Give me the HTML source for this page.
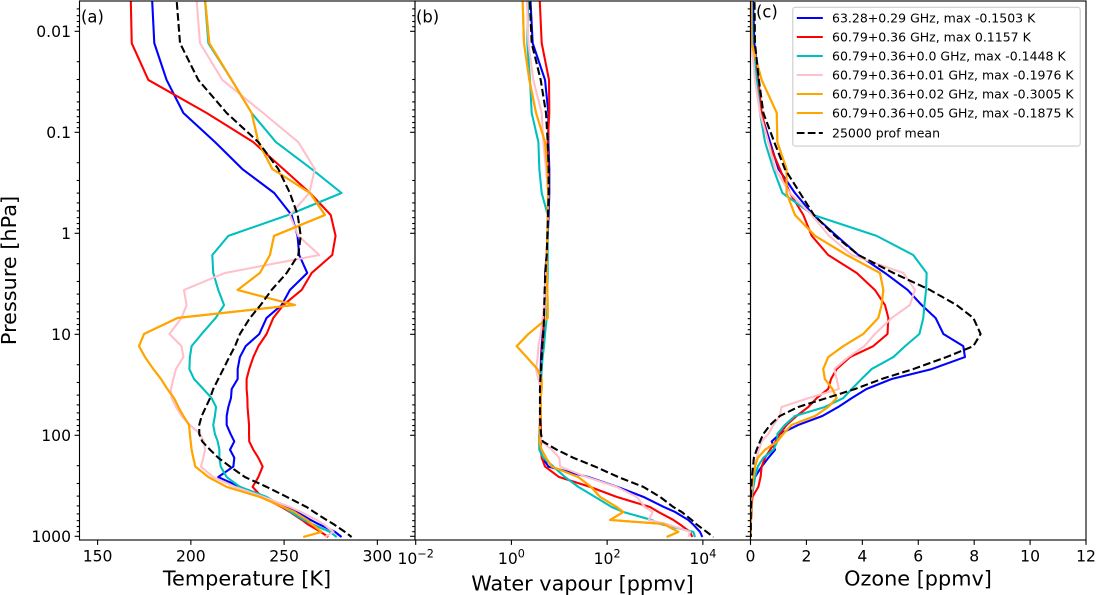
<!DOCTYPE html>
<html>
<head>
<meta charset="utf-8">
<title>Atmospheric profiles</title>
<style>
html,body{margin:0;padding:0;background:#fff;width:1096px;height:595px;overflow:hidden}
svg{display:block;font-family:"DejaVu Sans","Liberation Sans",sans-serif}
</style>
</head>
<body>
<svg id="chart" xmlns="http://www.w3.org/2000/svg" width="1096" height="595" viewBox="0 0 1096 595">
<rect x="0" y="0" width="1096" height="595" fill="#fff"/>
<defs>
<clipPath id="clipA"><rect x="79.5" y="1" width="335.5" height="539"/></clipPath>
<clipPath id="clipB"><rect x="415" y="1" width="335.5" height="539"/></clipPath>
<clipPath id="clipC"><rect x="750.5" y="1" width="335.5" height="539"/></clipPath>
</defs>
<g id="marks"></g>
<g id="axes"></g>
<text x="81" y="22.5" font-size="16.4">(a)</text>
<text x="416" y="22.5" font-size="16.4">(b)</text>
<text x="756" y="17.5" font-size="16.4">(c)</text>
<text transform="translate(16,270.5) rotate(-90)" text-anchor="middle" font-size="20.8">Pressure [hPa]</text>
<text x="247" y="585.7" text-anchor="middle" font-size="20.8">Temperature [K]</text>
<text x="582.5" y="590.5" text-anchor="middle" font-size="20.8">Water vapour [ppmv]</text>
<text x="918" y="585.7" text-anchor="middle" font-size="20.8">Ozone [ppmv]</text>
<g>
<rect x="792.8" y="7.3" width="287.4" height="138.8" rx="2.5" fill="#fff" fill-opacity="0.8" stroke="#ccc" stroke-width="1.1"/>
<g><line x1="796.8" x2="822.8" y1="18" y2="18" stroke="#0000ff" stroke-width="2.08"/><text x="832" y="22.4" font-size="12.5">63.28+0.29 GHz, max -0.1503 K</text></g>
<g><line x1="796.8" x2="822.8" y1="37" y2="37" stroke="#ff0000" stroke-width="2.08"/><text x="832" y="41.4" font-size="12.5">60.79+0.36 GHz, max 0.1157 K</text></g>
<g><line x1="796.8" x2="822.8" y1="56" y2="56" stroke="#00bfbf" stroke-width="2.08"/><text x="832" y="60.4" font-size="12.5">60.79+0.36+0.0 GHz, max -0.1448 K</text></g>
<g><line x1="796.8" x2="822.8" y1="75" y2="75" stroke="#ffc0cb" stroke-width="2.08"/><text x="832" y="79.4" font-size="12.5">60.79+0.36+0.01 GHz, max -0.1976 K</text></g>
<g><line x1="796.8" x2="822.8" y1="94" y2="94" stroke="#ffa500" stroke-width="2.08"/><text x="832" y="98.4" font-size="12.5">60.79+0.36+0.02 GHz, max -0.3005 K</text></g>
<g><line x1="796.8" x2="822.8" y1="113" y2="113" stroke="#ffa500" stroke-width="2.08"/><text x="832" y="117.4" font-size="12.5">60.79+0.36+0.05 GHz, max -0.1875 K</text></g>
<g><line x1="796.8" x2="822.8" y1="133" y2="133" stroke="#000" stroke-width="2.08" stroke-dasharray="7.7 3.3"/><text x="832" y="137.4" font-size="12.5">25000 prof mean</text></g>
</g>
</svg>
<script>
const pressure = [0.004,0.0131,0.0303,0.0644,0.125,0.231,0.399,0.659,1.06,1.64,2.47,3.64,5.13,6.89,9.93,13.1,16.8,22.1,27.7,34.8,42.8,52.4,64.4,79,97,115,139,167,204,259,324,407,513,574,689,755,904,1016];

const tempBlue = [179,180.4,187,196,213,227.6,244.7,254,257.2,258.1,262.4,253.1,248.7,240.6,236.7,229.4,226.3,225.1,225.1,221.9,221.5,220.1,219.2,219.2,221.3,223.3,221,223.3,222.8,214.7,226.3,238,252.2,256.7,264.2,268.3,277.3,280.8];
const tempRed = [167.7,168.3,177.2,208.5,233.5,249.6,263.9,275,277.6,275.8,264.8,259.4,249.6,244.2,240.6,236.2,233.5,231.3,229.9,229.9,230.3,230.4,230.8,231.2,231.2,231.3,233.5,236.2,238.5,236.2,233.1,238,248.7,253.1,259.6,262.4,269.6,273.7];
const tempCyan = [207.2,209.4,221.9,232.6,245.6,264.8,280.8,252.2,220.1,211.5,212,214.7,217.8,213.3,205.8,200.4,199.5,199.2,201.7,206.7,211.1,213.5,212.9,212,212.9,214.4,215.3,215.3,216,219.2,226.3,240.6,249.6,253.5,260.6,264.8,274.6,278.2];
const tempPink = [202.7,204.9,216.9,238.8,257.6,266.5,263.5,253.1,257.6,268.9,218.3,196.3,197.7,195,188.5,195,196,192,190.6,189.3,189.7,192,195,199.5,204.9,207,207.6,206.7,205.4,212,223.7,238.8,253.1,259,267.4,271,276.4,271.9];
const tempOrangeA = [207.2,209.9,221.9,232.6,236.2,243.7,263.9,271.9,244.6,242.4,237,225.1,255.8,192.9,174.9,172.2,175.4,179.9,184,187.4,191,193.3,196,199,199.5,199.9,200.4,201.3,202.4,209.4,219.2,237,249.6,255.5,262.4,264.8,270.1,260.3];
const tempOrangeB = [207.2,209.9,221.9,232.6,236.2,243.7,263.9,271.9,244.6,242.4,237,225.1,255.8,192.9,174.9,172.2,175.4,179.9,184,187.4,191,193.3,196,199,199.5,199.9,200.4,201.3,202.4,209.4,219.2,237,249.6,255.5,262.4,264.8,270.1,260.3];
const tempMean = [192,194.2,204,219.2,236.2,246.9,253.1,257.3,258.9,257.6,251.4,243.3,237.4,231.7,226.3,223.7,220.6,217.4,214.7,212,210.3,208.1,205.8,204.5,204.5,206.1,210.3,214.7,221,229,240.6,251.4,262.1,266,272.8,276.4,282.6,286.2];

const vapourBlue = [2.44,2.78,5.04,5.92,5.92,6.19,6.19,6.00,5.73,5.46,5.04,5.04,4.87,4.64,4.50,4.29,4.15,4.09,4.09,4.09,4.09,4.09,4.09,4.09,4.09,4.09,3.95,4.50,5.92,40.5,163,571,1543,2618,4976,6124,8730,9750];
const vapourRed = [3.83,4.29,6.10,6.19,5.73,5.92,5.92,5.82,5.64,5.46,5.20,5.04,4.87,4.80,4.64,4.42,4.29,4.29,4.15,4.15,4.09,4.09,4.09,4.09,4.09,4.09,4.15,4.29,5.04,9.9,43.9,158,787,1175,2416,3228,5395,6030];
const vapourCyan = [2.26,2.15,2.44,2.65,3.66,3.83,4.29,5.73,5.73,5.73,5.73,5.64,5.64,5.46,5.04,4.80,4.50,4.29,4.15,4.09,4.09,4.02,3.95,3.83,3.78,3.78,3.83,4.64,7.52,13.2,25,55.8,124,218,853,1273,6324,6855];
const vapourPink = [2.08,2.26,2.87,4.29,4.64,5.28,5.92,5.73,5.64,5.46,5.28,5.04,4.80,4.50,4.09,3.66,3.54,3.27,3.66,4.09,4.09,4.09,3.95,3.83,3.83,4.29,6.93,10.0,10.4,37.4,158,414,618,895,738,1754,5395,4976];
const vapourOrangeA = [1.69,1.83,2.37,3.27,5.04,5.64,5.82,5.73,5.64,5.46,5.46,5.64,5.73,5.73,2.26,1.29,2.08,3.48,4.29,4.29,4.09,4.09,4.09,3.95,3.95,3.83,4.29,5.28,6.93,25,46,71,158,218,115,1495,3076,1754];
const vapourOrangeB = [1.69,1.83,2.37,3.27,5.04,5.64,5.82,5.73,5.64,5.46,5.46,5.64,5.73,5.73,2.26,1.29,2.08,3.48,4.29,4.29,4.09,4.09,4.09,3.95,3.95,3.83,4.29,5.28,6.93,25,46,71,158,218,115,1495,3076,1754];
const vapourMean = [2.37,2.65,4.09,5.28,5.73,6.00,6.00,5.82,5.64,5.46,5.12,4.95,4.87,4.80,4.64,4.42,4.29,4.15,4.02,3.95,3.95,3.95,3.95,4.02,4.15,4.50,8.83,19.7,55.8,171,571,1273,2416,3606,5848,7194,12000,16600];

const ozoneBlue = [0.08,0.14,0.28,0.38,0.70,1.0,1.59,2.25,3.08,3.86,4.81,5.62,6.12,6.62,6.90,7.61,7.67,6.48,5.05,4.15,3.62,3.14,2.57,1.71,1.05,0.76,0.88,0.64,0.40,0.16,0.10,0.05,0.02,0.02,0.01,0.01,0.01,0.01];
const ozoneRed = [0.02,0.04,0.28,0.40,0.64,1.05,1.41,1.89,2.19,2.78,3.80,4.45,4.81,4.93,4.90,4.39,3.56,3.08,2.88,2.78,2.37,2.07,1.65,1.29,1.05,0.90,0.70,0.52,0.40,0.36,0.28,0.07,0.04,0.04,0.02,0.01,0.01,0.01];
const ozoneCyan = [0.04,0.07,0.22,0.34,0.52,0.82,1.14,2.25,4.51,5.82,6.30,6.28,6.22,6.18,6.04,5.53,5.11,4.33,3.97,3.62,3.32,2.66,1.59,1.23,0.96,0.96,0.82,0.46,0.26,0.16,0.10,0.04,0.03,0.02,0.01,0.01,0.01,0.01];
const ozonePink = [0.02,0.04,0.16,0.34,0.64,0.88,1.41,2.19,2.81,3.62,5.47,5.88,5.70,5.05,4.45,4.07,3.50,3.00,3.08,3.16,2.07,1.11,1.05,0.82,0.64,0.40,0.30,0.22,0.16,0.10,0.07,0.04,0.02,0.02,0.01,0.01,0.01,0.01];
const ozoneOrangeA = [0.02,0.04,0.40,0.94,0.96,1.29,1.29,1.59,2.31,3.44,4.63,4.75,4.69,4.57,4.03,3.32,2.78,2.60,2.66,2.93,3.08,2.78,2.31,1.47,1.17,0.96,0.52,0.26,0.16,0.10,0.04,0.03,0.02,0.02,0.01,0.01,0.01,0.01];
const ozoneOrangeB = [0.02,0.04,0.40,0.94,0.96,1.29,1.29,1.59,2.31,3.44,4.63,4.75,4.69,4.57,4.03,3.32,2.78,2.60,2.66,2.93,3.08,2.78,2.31,1.47,1.17,0.96,0.52,0.26,0.16,0.10,0.04,0.03,0.02,0.02,0.01,0.01,0.01,0.01];
const ozoneMean = [0.14,0.16,0.30,0.46,0.85,1.23,1.77,2.27,3.02,3.86,5.11,6.42,7.37,7.97,8.23,7.97,7.01,5.82,4.69,3.74,2.72,1.71,1.05,0.70,0.46,0.34,0.22,0.12,0.09,0.05,0.03,0.02,0.02,0.01,0.01,0.01,0.01,0.01];

const pressureMajorTicks = [0.01,0.1,1,10,100,1000];
const pressureTickLabels = ["0.01","0.1","1","10","100","1000"];
const pressureMinorTicks = [0.006,0.007,0.008,0.009,0.02,0.03,0.04,0.05,0.06,0.07,0.08,0.09,0.2,0.3,0.4,0.5,0.6,0.7,0.8,0.9,2,3,4,5,6,7,8,9,20,30,40,50,60,70,80,90,200,300,400,500,600,700,800,900];
const temperatureTicks = [150,200,250,300];
const vapourTickExponents = [-2,0,2,4];
const ozoneTicks = [0,2,4,6,8,10,12];

const seriesColors = ["#0000ff","#ff0000","#00bfbf","#ffc0cb","#ffa500","#ffa500","#000000"];
const seriesKeys = ["63-28","60-79","60-79-0-0","60-79-0-01","60-79-0-02","60-79-0-05","prof-mean"];

const panelTop = 1, panelBottom = 540;
function yP(p){ return 31.3 + 101 * (Math.log10(p) + 2); }
function xT(t){ return 97.6 + (t - 150) * 1.865; }
function xW(w){ return 415.7 + (Math.log10(w) + 2) * 47.86; }
function xO(o){ return 750.5 + o * 27.96; }

const NS = "http://www.w3.org/2000/svg";
const marksLayer = document.getElementById("marks");
const axesLayer = document.getElementById("axes");

function tickLine(x1, y1, x2, y2, name){
  const el = document.createElementNS(NS, "line");
  el.setAttribute("x1", x1); el.setAttribute("y1", y1);
  el.setAttribute("x2", x2); el.setAttribute("y2", y2);
  el.setAttribute("stroke", "#000"); el.setAttribute("stroke-width", "1.1");
  
  
  axesLayer.appendChild(el);
  return el;
}
function label(x, y, str, anchor, size, name){
  const el = document.createElementNS(NS, "text");
  el.setAttribute("x", x); el.setAttribute("y", y);
  el.setAttribute("text-anchor", anchor); el.setAttribute("font-size", size);
  el.textContent = str;
  
  
  axesLayer.appendChild(el);
  return el;
}
function drawSeries(values, xFn, clipId, idx, panelName){
  const el = document.createElementNS(NS, "polyline");
  el.setAttribute("points", values.map(function(v, i){ return xFn(v).toFixed(2) + "," + yP(pressure[i]).toFixed(2); }).join(" "));
  el.setAttribute("fill", "none");
  el.setAttribute("stroke", seriesColors[idx]);
  el.setAttribute("stroke-width", "2.08");
  el.setAttribute("stroke-linejoin", "round");
  el.setAttribute("clip-path", "url(#" + clipId + ")");
  if (idx === 6) el.setAttribute("stroke-dasharray", "7.7 3.3");
  
  
  marksLayer.appendChild(el);
}

[tempBlue,tempRed,tempCyan,tempPink,tempOrangeA,tempOrangeB,tempMean].forEach(function(a,i){ drawSeries(a, xT, "clipA", i, "temperature"); });
[vapourBlue,vapourRed,vapourCyan,vapourPink,vapourOrangeA,vapourOrangeB,vapourMean].forEach(function(a,i){ drawSeries(a, xW, "clipB", i, "water-vapour"); });
[ozoneBlue,ozoneRed,ozoneCyan,ozonePink,ozoneOrangeA,ozoneOrangeB,ozoneMean].forEach(function(a,i){ drawSeries(a, xO, "clipC", i, "ozone"); });

[[79.5,"a"],[415,"b"],[750.5,"c"]].forEach(function(panel){
  const left = panel[0];
  pressureMajorTicks.forEach(function(p){
    tickLine(left - 4.9, yP(p), left, yP(p), "y-major-tick-" + panel[1]);
  });
  pressureMinorTicks.forEach(function(p){
    tickLine(left - 2.8, yP(p), left, yP(p), "y-minor-tick-" + panel[1]);
  });
  const frame = document.createElementNS(NS, "rect");
  frame.setAttribute("x", left); frame.setAttribute("y", panelTop);
  frame.setAttribute("width", 335.5); frame.setAttribute("height", panelBottom - panelTop);
  frame.setAttribute("fill", "none"); frame.setAttribute("stroke", "#000"); frame.setAttribute("stroke-width", "1.1");
  
  
  axesLayer.appendChild(frame);
});

pressureMajorTicks.forEach(function(p, i){
  label(71, yP(p) + 5.7, pressureTickLabels[i], "end", 15.6, "y-tick-label");
});
temperatureTicks.forEach(function(t){
  tickLine(xT(t), panelBottom, xT(t), panelBottom + 4.9, "x-tick-temperature");
  label(xT(t), 561.7, String(t), "middle", 15.6, "x-tick-label-temperature");
});
vapourTickExponents.forEach(function(e){
  const x = xW(Math.pow(10, e));
  tickLine(x, panelBottom, x, panelBottom + 4.9, "x-tick-water-vapour");
  const t = label(x, 564, "10", "middle", 15.6, "x-tick-label-water-vapour");
  const sup = document.createElementNS(NS, "tspan");
  sup.setAttribute("dy", "-6.4");
  sup.setAttribute("font-size", "11.2");
  sup.textContent = e < 0 ? "\u2212" + Math.abs(e) : String(e);
  
  
  t.appendChild(sup);
});
ozoneTicks.forEach(function(o){
  tickLine(xO(o), panelBottom, xO(o), panelBottom + 4.9, "x-tick-ozone");
  label(xO(o), 561.7, String(o), "middle", 15.6, "x-tick-label-ozone");
});
</script>
</body>
</html>
